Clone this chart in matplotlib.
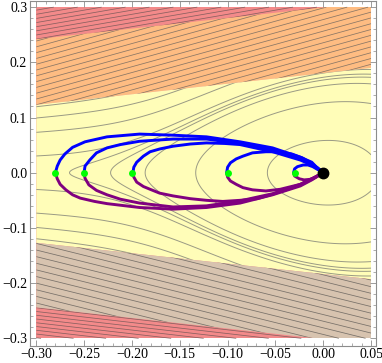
import numpy as np
import matplotlib
matplotlib.use('Agg')
import matplotlib.pyplot as plt
from matplotlib.patches import Polygon, Rectangle
from matplotlib.ticker import MultipleLocator, FuncFormatter

plt.rcParams['font.family'] = ['Liberation Serif', 'DejaVu Serif']
plt.rcParams['contour.negative_linestyle'] = 'solid'

# %% plot region
x_lo, x_hi = -0.30, 0.05
y_lo, y_hi = -0.30, 0.30

# %% band boundaries (value at x=-0.30 and at x=0.05)
edge_x = [-0.30, 0.05]
upper_inner = [0.123, 0.190]     # yellow / orange
upper_outer = [0.242, 0.309]     # orange / red
lower_inner = [-0.127, -0.193]   # yellow / tan
lower_outer = [-0.244, -0.311]   # tan / red

c_red = '#F38A8A'
c_orange = '#FEBC82'
c_yellow = '#FFFDB8'
c_tan = '#D7C3AF'

# straight contour families in the bands: slope, spacing, offset
orange_lines = (0.48, 0.0105, 0.003)
red_up_lines = (0.30, 0.0075, 0.002)
tan_lines = (-0.43, 0.012, 0.004)
red_dn_lines = (-0.20, 0.0068, 0.001)

# contours of the central region: F = w(x) y^2 + V(x)
pot_sat = 0.0305      # saturation of V
y_weight = 3.0        # w(x) = exp(-y_weight x)
mid_levels = [0.0034, 0.0160, 0.0248, 0.0282, 0.0299, 0.0326, 0.0435, 0.0545, 0.0655]

# %% trajectories (start points on y=0, all ending at the origin)
start_x = [-0.28, -0.25, -0.20, -0.10, -0.03]

blue1_x = [-0.280, -0.278, -0.275, -0.270, -0.262, -0.249, -0.226, -0.192, -0.157, -0.122, -0.087, -0.053, -0.024, -0.012, -0.007, 0.0]
blue1_y = [0.0, 0.012, 0.023, 0.034, 0.046, 0.056, 0.065, 0.070, 0.068, 0.065, 0.056, 0.045, 0.028, 0.019, 0.010, 0.0]
blue2_x = [-0.250, -0.249, -0.244, -0.237, -0.226, -0.212, -0.192, -0.157, -0.122, -0.087, -0.053, -0.024, -0.012, -0.006, 0.0]
blue2_y = [0.0, 0.012, 0.023, 0.036, 0.045, 0.051, 0.057, 0.061, 0.061, 0.053, 0.041, 0.025, 0.016, 0.009, 0.0]
blue3_x = [-0.199, -0.198, -0.195, -0.188, -0.181, -0.171, -0.157, -0.139, -0.122, -0.103, -0.087, -0.053, -0.024, -0.012, -0.006, 0.0]
blue3_y = [0.0, 0.010, 0.019, 0.030, 0.038, 0.043, 0.048, 0.052, 0.054, 0.053, 0.051, 0.038, 0.023, 0.014, 0.007, 0.0]
blue4_x = [-0.101, -0.100, -0.097, -0.091, -0.084, -0.074, -0.060, -0.045, -0.033, -0.022, -0.014, -0.007, 0.0]
blue4_y = [0.0, 0.010, 0.018, 0.025, 0.030, 0.036, 0.038, 0.038, 0.034, 0.027, 0.019, 0.009, 0.0]
blue5_x = [-0.031, -0.030, -0.027, -0.021, -0.016, -0.011, -0.006, 0.0]
blue5_y = [0.0, 0.007, 0.011, 0.014, 0.014, 0.011, 0.006, 0.0]

purple1_x = [-0.280, -0.278, -0.275, -0.269, -0.262, -0.254, -0.239, -0.226, -0.192, -0.157, -0.122, -0.087, -0.053, -0.024, -0.012, 0.0]
purple1_y = [0.0, -0.011, -0.021, -0.031, -0.040, -0.046, -0.052, -0.056, -0.063, -0.066, -0.063, -0.055, -0.040, -0.024, -0.013, 0.0]
purple2_x = [-0.250, -0.249, -0.245, -0.237, -0.226, -0.212, -0.192, -0.157, -0.122, -0.087, -0.053, -0.024, -0.012, 0.0]
purple2_y = [0.0, -0.010, -0.022, -0.032, -0.040, -0.048, -0.055, -0.062, -0.060, -0.051, -0.038, -0.021, -0.011, 0.0]
purple3_x = [-0.199, -0.198, -0.195, -0.188, -0.181, -0.171, -0.157, -0.139, -0.122, -0.105, -0.087, -0.069, -0.053, -0.024, -0.012, 0.0]
purple3_y = [0.0, -0.008, -0.017, -0.025, -0.030, -0.037, -0.042, -0.047, -0.050, -0.052, -0.050, -0.047, -0.039, -0.022, -0.012, 0.0]
purple4_x = [-0.101, -0.100, -0.097, -0.091, -0.084, -0.074, -0.060, -0.045, -0.024, -0.012, 0.0]
purple4_y = [0.0, -0.008, -0.015, -0.021, -0.027, -0.031, -0.033, -0.030, -0.021, -0.011, 0.0]
purple5_x = [-0.031, -0.030, -0.025, -0.020, -0.014, -0.009, -0.005, 0.0]
purple5_y = [0.0, -0.006, -0.011, -0.013, -0.012, -0.009, -0.005, 0.0]

blue_x = [blue1_x, blue2_x, blue3_x, blue4_x, blue5_x]
blue_y = [blue1_y, blue2_y, blue3_y, blue4_y, blue5_y]
purple_x = [purple1_x, purple2_x, purple3_x, purple4_x, purple5_x]
purple_y = [purple1_y, purple2_y, purple3_y, purple4_y, purple5_y]

# %% figure
fig = plt.figure(figsize=(3.82, 3.63), dpi=100, facecolor='w')
ax = fig.add_axes([30/382, 1 - 345.5/363, 346/382, 345/363])
ax.set_xlim(-0.3065, 0.0551)
ax.set_ylim(-0.3130, 0.3120)

region = Rectangle((x_lo, y_lo), x_hi - x_lo, y_hi - y_lo, transform=ax.transData)


def band(lower, upper, color):
    pts = [(edge_x[0], lower[0]), (edge_x[1], lower[1]),
           (edge_x[1], upper[1]), (edge_x[0], upper[0])]
    p = Polygon(pts, closed=True, facecolor=color, edgecolor='none', zorder=0)
    ax.add_patch(p)
    p.set_clip_path(region)
    return p


big = 1.0
band([-big, -big], [big, big], c_red)
p_orange = band(upper_inner, upper_outer, c_orange)
p_yellow = band(lower_inner, upper_inner, c_yellow)
p_tan = band(lower_outer, lower_inner, c_tan)
p_red_up = Polygon([(edge_x[0], upper_outer[0]), (edge_x[1], upper_outer[1]),
                    (edge_x[1], big), (edge_x[0], big)], transform=ax.transData)
p_red_dn = Polygon([(edge_x[0], -big), (edge_x[1], -big),
                    (edge_x[1], lower_outer[1]), (edge_x[0], lower_outer[0])],
                   transform=ax.transData)

X, Y = np.meshgrid(np.linspace(x_lo, x_hi, 500), np.linspace(y_lo, y_hi, 700))


def line_family(params, patch, col):
    slope, step, off = params
    G = Y - slope * X
    lv = np.arange(G.min() - step + off, G.max() + step, step)
    cs = ax.contour(X, Y, G, levels=lv, colors=col, linewidths=0.55,
                    linestyles='solid', alpha=0.85, zorder=1)
    cs.set_clip_path(patch)


line_family(orange_lines, p_orange, '#756a60')
line_family(red_up_lines, p_red_up, '#765858')
line_family(tan_lines, p_tan, '#66615c')
line_family(red_dn_lines, p_red_dn, '#765858')

F = np.exp(-y_weight * X) * Y**2 + pot_sat * np.tanh(X**2 / pot_sat)
cs = ax.contour(X, Y, F, levels=mid_levels, colors='#9a9a84', linewidths=0.7,
                linestyles='solid', zorder=1)
cs.set_clip_path(p_yellow)

for xs, ys in zip(purple_x, purple_y):
    ax.plot(xs, ys, color='#800080', lw=2.1, solid_capstyle='round', zorder=3)
for xs, ys in zip(blue_x, blue_y):
    ax.plot(xs, ys, color='#0000FF', lw=2.1, solid_capstyle='round', zorder=3)

ax.plot(start_x, np.zeros(len(start_x)), 'o', color='#00FF00', ms=5, mec='none', zorder=4)
ax.plot([0.0], [0.0], 'o', color='k', ms=7.5, zorder=5)

# %% frame and ticks
for s in ax.spines.values():
    s.set_color('#8c8c8c')
    s.set_linewidth(0.8)
ax.xaxis.set_major_locator(MultipleLocator(0.05))
ax.xaxis.set_minor_locator(MultipleLocator(0.01))
ax.yaxis.set_major_locator(MultipleLocator(0.1))
ax.yaxis.set_minor_locator(MultipleLocator(0.02))
ax.tick_params(which='both', direction='in', top=True, right=True, color='#8c8c8c',
               labelsize=10, pad=2)
ax.tick_params(which='major', length=4.5, width=0.6)
ax.tick_params(which='minor', length=2.3, width=0.5)
ax.xaxis.set_major_formatter(FuncFormatter(lambda v, p: ('%.2f' % v).replace('-', '\u2212')))
ax.yaxis.set_major_formatter(FuncFormatter(lambda v, p: ('%.1f' % (v + 0.0)).replace('-', '\u2212')))

fig.savefig('out.png', dpi=100)
